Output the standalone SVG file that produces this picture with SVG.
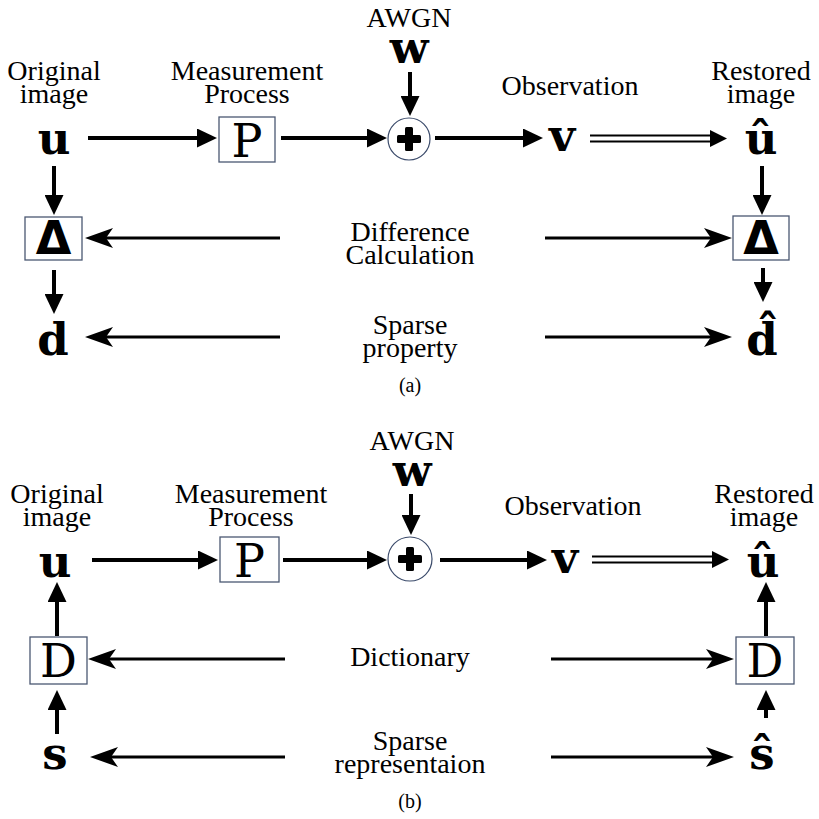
<svg xmlns="http://www.w3.org/2000/svg" width="819" height="819" viewBox="0 0 819 819">
<style>
.lbl{font-family:"Liberation Serif",serif;font-size:28px;fill:#000;text-anchor:middle}
.cap{font-family:"Liberation Serif",serif;font-size:20px;fill:#000;text-anchor:middle}
.m{font-family:"DejaVu Serif",serif;font-weight:bold;font-size:45px;fill:#000;text-anchor:middle}
.op{font-family:"DejaVu Serif",serif;font-size:46px;fill:#000;text-anchor:middle}
.dl{font-family:"DejaVu Sans",sans-serif;font-weight:bold;font-size:46px;fill:#000;text-anchor:middle}
.box{fill:#fff;stroke:#4b5872;stroke-width:1.3}
.thick{stroke:#000;stroke-width:4;fill:none;marker-end:url(#ah)}
.thin{stroke:#000;stroke-width:3;fill:none;marker-end:url(#sh)}
.dbl{stroke:#000;stroke-width:1.8}
</style>
<defs>
<marker id="ah" markerUnits="userSpaceOnUse" markerWidth="20" markerHeight="19" refX="8" refY="9.5" orient="auto" viewBox="0 0 20 19"><path d="M0,0 L20,9.5 L0,19 z" fill="#000"/></marker>
<marker id="sh" markerUnits="userSpaceOnUse" markerWidth="28" markerHeight="20" refX="10" refY="10" orient="auto" viewBox="0 0 28 20"><path d="M0,0 L28,10 L0,20 L7,10 z" fill="#000"/></marker>
<g id="dblarrow"><line class="dbl" x1="0" y1="-3" x2="124" y2="-3"/><line class="dbl" x1="0" y1="3" x2="124" y2="3"/><path d="M120,-8.5 L137,0 L120,8.5 z" fill="#000"/></g>
<g id="plus"><rect x="-12" y="-4" width="24" height="8" rx="1.5"/><rect x="-4" y="-12" width="8" height="24" rx="1.5"/></g>
</defs>

<!-- Panel (a) -->
<g id="a-orig"><text class="lbl" x="54" y="80">Original<tspan x="54" dy="23">image</tspan></text><text class="m" x="54" y="154">u</text></g>
<g id="a-meas"><text class="lbl" x="247" y="80">Measurement<tspan x="247" dy="23">Process</tspan></text><rect class="box" x="219" y="117" width="56" height="45"/><text class="op" x="247" y="157">P</text></g>
<g id="a-awgn"><text class="lbl" x="409" y="27">AWGN</text><text class="m" x="409" y="63">w</text></g>
<g id="a-sum"><circle cx="409" cy="139" r="21" fill="#fff" stroke="#3a4a6a" stroke-width="1.2"/><use href="#plus" x="409" y="139"/></g>
<g id="a-obs"><text class="lbl" x="570" y="95">Observation</text><text class="m" x="562" y="151">v</text></g>
<g id="a-rest"><text class="lbl" x="761" y="80">Restored<tspan x="761" dy="23">image</tspan></text><text class="m" x="761" y="154">û</text></g>
<g id="a-deltaL"><rect class="box" x="25" y="217" width="57" height="43"/><text class="dl" x="53.5" y="254">Δ</text></g>
<g id="a-deltaR"><rect class="box" x="733" y="216" width="56" height="44"/><text class="dl" x="761" y="254">Δ</text></g>
<g id="a-d"><text class="m" x="53" y="355">d</text></g>
<g id="a-dhat"><text class="m" x="762" y="355">d̂</text></g>
<g id="a-diff"><text class="lbl" x="410" y="241">Difference<tspan x="410" dy="23">Calculation</tspan></text></g>
<g id="a-sparse"><text class="lbl" x="410" y="334">Sparse<tspan x="410" dy="23">property</tspan></text></g>
<text class="cap" x="410" y="392">(a)</text>

<!-- Panel (b) -->
<g id="b-orig"><text class="lbl" x="57" y="503">Original<tspan x="57" dy="23">image</tspan></text><text class="m" x="55" y="577">u</text></g>
<g id="b-meas"><text class="lbl" x="251" y="503">Measurement<tspan x="251" dy="23">Process</tspan></text><rect class="box" x="220" y="537" width="59" height="45"/><text class="op" x="249.5" y="577">P</text></g>
<g id="b-awgn"><text class="lbl" x="412" y="450">AWGN</text><text class="m" x="412" y="486">w</text></g>
<g id="b-sum"><circle cx="410" cy="559" r="22" fill="#fff" stroke="#3a4a6a" stroke-width="1.2"/><use href="#plus" x="410" y="559"/></g>
<g id="b-obs"><text class="lbl" x="573" y="515">Observation</text><text class="m" x="565" y="573">v</text></g>
<g id="b-rest"><text class="lbl" x="764" y="503">Restored<tspan x="764" dy="23">image</tspan></text><text class="m" x="763" y="577">û</text></g>
<g id="b-DL"><rect class="box" x="30" y="637" width="57" height="47"/><text class="op" x="58.5" y="677">D</text></g>
<g id="b-DR"><rect class="box" x="736" y="637" width="58" height="47"/><text class="op" x="765" y="677">D</text></g>
<g id="b-s"><text class="m" x="55" y="769">s</text></g>
<g id="b-shat"><text class="m" x="762" y="769">ŝ</text></g>
<g id="b-dict"><text class="lbl" x="410" y="666">Dictionary</text></g>
<g id="b-sparse"><text class="lbl" x="410" y="750">Sparse<tspan x="410" dy="23">representaion</tspan></text></g>
<text class="cap" x="410" y="808">(b)</text>

<g id="connectors">
<line class="thick" x1="410" y1="72" x2="410" y2="104"/>
<line class="thick" x1="88" y1="138" x2="205" y2="138"/>
<line class="thick" x1="281" y1="138" x2="375" y2="138"/>
<line class="thick" x1="435" y1="138" x2="531" y2="138"/>
<use href="#dblarrow" x="590" y="138.5"/>
<line class="thick" x1="54" y1="166" x2="54" y2="203"/>
<line class="thick" x1="54" y1="270" x2="54" y2="302"/>
<line class="thick" x1="762" y1="166" x2="762" y2="203"/>
<line class="thick" x1="763" y1="268" x2="763" y2="290"/>
<line class="thin" x1="280" y1="238" x2="103" y2="238"/>
<line class="thin" x1="545" y1="238" x2="714" y2="238"/>
<line class="thin" x1="280" y1="337" x2="103" y2="337"/>
<line class="thin" x1="545" y1="337" x2="714" y2="337"/>

<line class="thick" x1="411" y1="494" x2="411" y2="523"/>
<line class="thick" x1="92" y1="560" x2="206" y2="560"/>
<line class="thick" x1="283" y1="560" x2="375" y2="560"/>
<line class="thick" x1="440" y1="560" x2="535" y2="560"/>
<use href="#dblarrow" x="592" y="559.5"/>
<line class="thick" x1="57" y1="636" x2="57" y2="594"/>
<line class="thick" x1="766" y1="636" x2="766" y2="594"/>
<line class="thick" x1="57" y1="734" x2="57" y2="702"/>
<line class="thick" x1="766" y1="718" x2="766" y2="702"/>
<line class="thin" x1="285" y1="659" x2="106" y2="659"/>
<line class="thin" x1="551" y1="659" x2="716" y2="659"/>
<line class="thin" x1="285" y1="757" x2="108" y2="757"/>
<line class="thin" x1="551" y1="757" x2="716" y2="757"/>
</g>
</svg>
